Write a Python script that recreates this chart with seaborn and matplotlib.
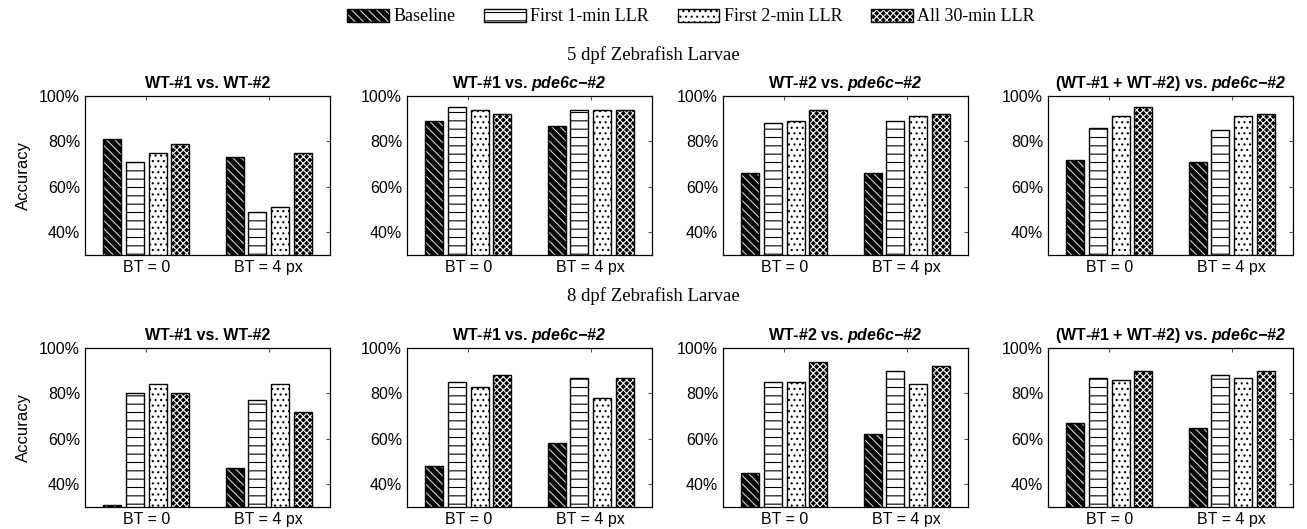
import numpy as np
import pandas as pd
import matplotlib
matplotlib.use("Agg")
import matplotlib.pyplot as plt
from matplotlib.patches import Patch
import seaborn as sns

# ---------------- data ----------------
methods = ["Baseline", "First 1-min LLR", "First 2-min LLR", "All 30-min LLR"]
bt_labels = ["BT = 0", "BT = 4 px"]
row_titles = ["5 dpf Zebrafish Larvae", "8 dpf Zebrafish Larvae"]
panel_titles = [
    r"WT-#1 vs. WT-#2",
    r"WT-#1 vs. $\mathbfit{pde6c{-}\#2}$",
    r"WT-#2 vs. $\mathbfit{pde6c{-}\#2}$",
    r"(WT-#1 + WT-#2) vs. $\mathbfit{pde6c{-}\#2}$",
]

# values (%) : [panel][bt][method]
acc_5dpf_p1 = [[81, 71, 75, 79], [73, 49, 51, 75]]
acc_5dpf_p2 = [[89, 95, 94, 92], [87, 94, 94, 94]]
acc_5dpf_p3 = [[66, 88, 89, 94], [66, 89, 91, 92]]
acc_5dpf_p4 = [[72, 86, 91, 95], [71, 85, 91, 92]]
acc_8dpf_p1 = [[31, 80, 84, 80], [47, 77, 84, 72]]
acc_8dpf_p2 = [[48, 85, 83, 88], [58, 87, 78, 87]]
acc_8dpf_p3 = [[45, 85, 85, 94], [62, 90, 84, 92]]
acc_8dpf_p4 = [[67, 87, 86, 90], [65, 88, 87, 90]]

rows = [
    [acc_5dpf_p1, acc_5dpf_p2, acc_5dpf_p3, acc_5dpf_p4],
    [acc_8dpf_p1, acc_8dpf_p2, acc_8dpf_p3, acc_8dpf_p4],
]

# ---------------- style ----------------
sns.set_style("white")
plt.rcParams["font.family"] = ["Liberation Sans", "DejaVu Sans"]
plt.rcParams["mathtext.fontset"] = "custom"
plt.rcParams["mathtext.rm"] = "Liberation Sans"
plt.rcParams["mathtext.bf"] = "Liberation Sans:bold"
plt.rcParams["mathtext.bfit"] = "Liberation Sans:italic:bold"
plt.rcParams["mathtext.it"] = "Liberation Sans:italic"
plt.rcParams["hatch.linewidth"] = 0.8
for k in ["text.color", "axes.labelcolor", "xtick.labelcolor", "ytick.labelcolor"]:
    plt.rcParams[k] = "black"

faces = ["black", "white", "white", "black"]
hatches = ["\\\\\\\\", "--", "...", "xxxxx"]
hatch_cols = ["#d0d0d0", "black", "black", "white"]

W, H = 1307, 529
fig = plt.figure(figsize=(W / 100, H / 100), dpi=100)

col_left_px = [85, 407, 723, 1048]
ax_w_px = 245
row_top_px = [96, 348]
row_bot_px = [255, 507]


def style_bar(p, i):
    p.set_facecolor(faces[i])
    p.set_hatch(hatches[i])
    p.set_edgecolor("black")
    p._hatch_color = matplotlib.colors.to_rgba(hatch_cols[i])
    p.set_linewidth(1.0)


for r, row in enumerate(rows):
    for c, vals in enumerate(row):
        recs = []
        for b, bt in enumerate(bt_labels):
            for m, meth in enumerate(methods):
                recs.append({"bt": bt, "method": meth, "acc": vals[b][m]})
        df = pd.DataFrame(recs)
        left = col_left_px[c] / W
        bottom = 1 - row_bot_px[r] / H
        height = (row_bot_px[r] - row_top_px[r]) / H
        ax = fig.add_axes([left, bottom, ax_w_px / W, height])
        sns.barplot(data=df, x="bt", y="acc", hue="method", order=bt_labels,
                    hue_order=methods, palette=faces, width=0.74, gap=0.2,
                    edgecolor="black", linewidth=1.0, legend=False, ax=ax)
        for i, cont in enumerate(ax.containers):
            for p in cont.patches:
                style_bar(p, i)
        ax.set_ylim(30, 100)
        ax.set_xlim(-0.5, 1.5)
        ax.set_yticks([40, 60, 80, 100])
        ax.set_yticklabels(["40%", "60%", "80%", "100%"], fontsize=11.5)
        ax.set_xticks([0, 1])
        ax.set_xticklabels(bt_labels, fontsize=11.5)
        ax.tick_params(direction="in", top=True, right=True, length=3,
                       width=0.8, color="#555555", pad=3.5,
                       labelcolor="black")
        ax.set_xlabel("")
        if c == 0:
            ax.set_ylabel("Accuracy", fontsize=12, labelpad=6)
        else:
            ax.set_ylabel("")
        for s in ax.spines.values():
            s.set_visible(True)
            s.set_color("black")
            s.set_linewidth(0.9)
        ax.set_title(panel_titles[c], fontsize=11.5, fontweight="bold", pad=6,
                     color="black")

# row titles
fig.text(0.5, 1 - 55 / H, row_titles[0], ha="center", va="center",
         fontsize=13.5, family=["Liberation Serif", "DejaVu Serif"])
fig.text(0.5, 1 - 296 / H, row_titles[1], ha="center", va="center",
         fontsize=13.5, family=["Liberation Serif", "DejaVu Serif"])

# legend
handles = []
for i, m in enumerate(methods):
    h = Patch(facecolor=faces[i], edgecolor="black", hatch=hatches[i], label=m,
              linewidth=1.0)
    h._hatch_color = matplotlib.colors.to_rgba(hatch_cols[i])
    handles.append(h)
fig.legend(handles=handles, loc="center", bbox_to_anchor=(691 / W, 1 - 17 / H),
           ncol=4, frameon=False, handlelength=2.3, handleheight=0.75,
           handletextpad=0.25, columnspacing=1.6,
           prop={"family": ["Liberation Serif", "DejaVu Serif"], "size": 13})

fig.savefig("out.png", dpi=100)
